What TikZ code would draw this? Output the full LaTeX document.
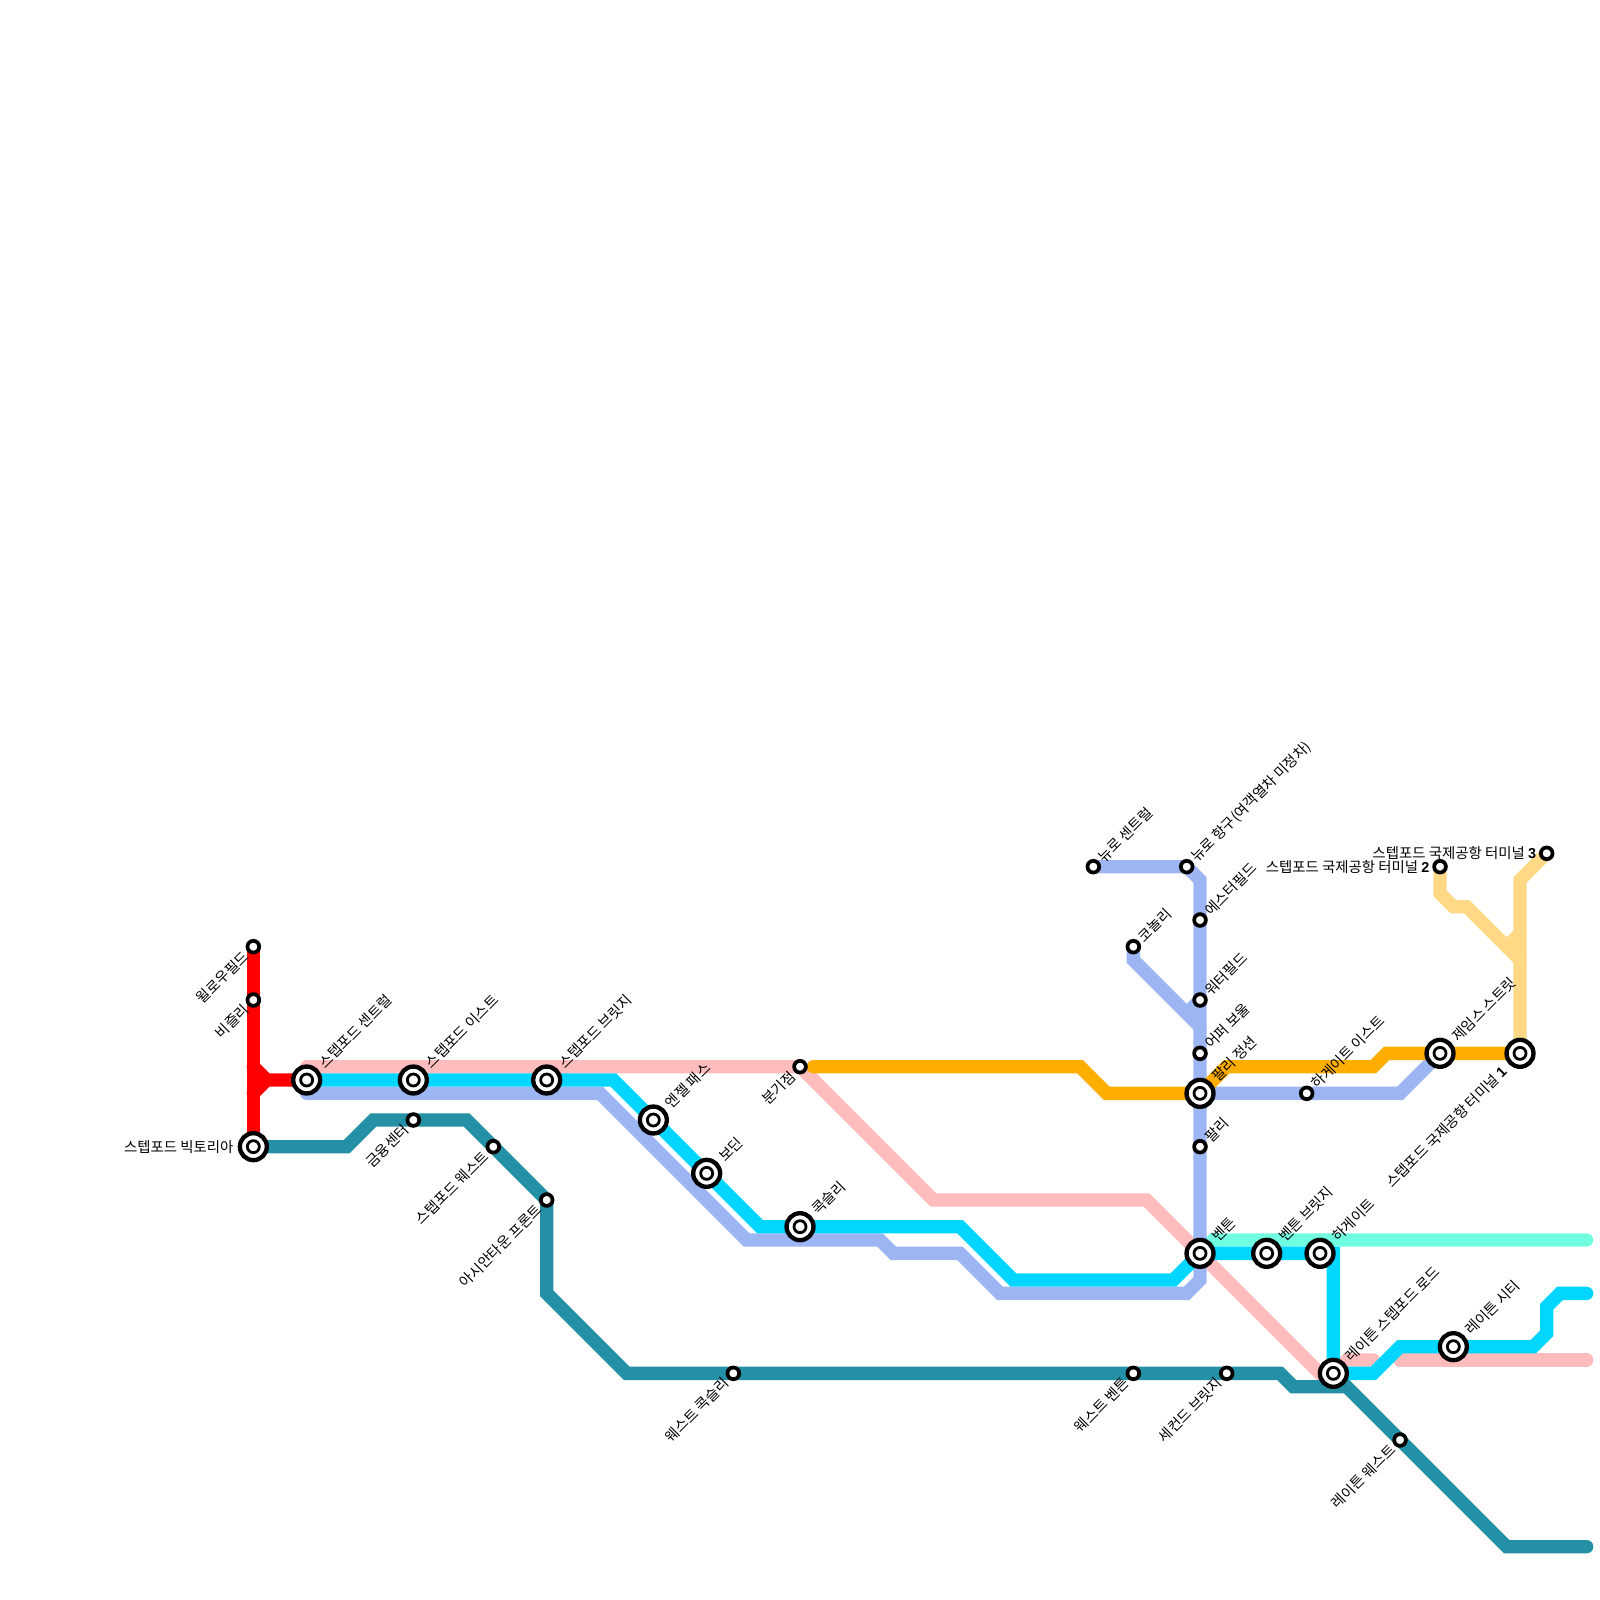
\documentclass[tikz,border=0pt]{standalone}
\usepackage{fontspec}
\setmainfont{Noto Sans CJK KR}
\newfontfamily\latbold{Liberation Sans Bold}
\usetikzlibrary{backgrounds}
\definecolor{cRed}{HTML}{FF0000}
\definecolor{cTeal}{HTML}{2390A5}
\definecolor{cPink}{HTML}{FFBCBC}
\definecolor{cCyan}{HTML}{00D6FF}
\definecolor{cBlue}{HTML}{9CB5F3}
\definecolor{cOrange}{HTML}{FFAE00}
\definecolor{cMint}{HTML}{71FFE1}
\definecolor{cYellow}{HTML}{FFD986}
\tikzset{
  x=0.2cm,y=-0.2cm,
  metro/.style={line width=0.2cm,line cap=round,line join=miter},
  sst/.style={circle,draw=black,fill=white,line width=0.056cm,minimum size=0.176cm,inner sep=0pt,outer sep=0pt},
  bst/.style={circle,draw=black,fill=white,line width=0.065cm,minimum size=0.404cm,inner sep=0pt,outer sep=0pt,
    path picture={\draw[black,line width=0.042cm] (path picture bounding box.center) circle[radius=0.09cm];}},
  txt/.style={font=\fontsize{6.15pt}{7pt}\selectfont,inner sep=0pt,outer sep=0pt,text=black},
  lur/.style={txt,rotate=45,anchor=west},
  lll/.style={txt,rotate=45,anchor=east},
  lh/.style={txt,anchor=east},
}
\begin{document}
\begin{tikzpicture}
\useasboundingbox (0,0) rectangle (120,120);
% stations
\node[sst] (willow) at (19,71) {};
\node[sst] (beasley) at (19,75) {};
\node[bst] (central) at (23,81) {};
\node[bst] (east) at (31,81) {};
\node[bst] (bridge) at (41,81) {};
\node[bst] (victoria) at (19,86) {};
\node[sst] (finance) at (31,84) {};
\node[sst] (west) at (37,86) {};
\node[sst] (asian) at (41,90) {};
\node[bst] (angel) at (49,84) {};
\node[bst] (bodin) at (53,88) {};
\node[bst] (coxley) at (60,92) {};
\node[sst] (junction) at (60,80) {};
\node[sst] (wcoxley) at (55,103) {};
\node[sst] (ncentral) at (82,65) {};
\node[sst] (nport) at (89,65) {};
\node[sst] (esther) at (90,69) {};
\node[sst] (connolly) at (85,71) {};
\node[sst] (water) at (90,75) {};
\node[sst] (upper) at (90,79) {};
\node[bst] (farleyj) at (90,82) {};
\node[sst] (heast) at (98,82) {};
\node[bst] (james) at (108,79) {};
\node[bst] (tone) at (114,79) {};
\node[sst] (ttwo) at (108,65) {};
\node[sst] (tthree) at (116,64) {};
\node[sst] (farley) at (90,86) {};
\node[bst] (benton) at (90,94) {};
\node[bst] (bbridge) at (95,94) {};
\node[bst] (hgate) at (99,94) {};
\node[bst] (lroad) at (100,103) {};
\node[bst] (lcity) at (109,101) {};
\node[sst] (wbenton) at (85,103) {};
\node[sst] (second) at (92,103) {};
\node[sst] (lwest) at (105,108) {};
% free ends
\coordinate (tealend) at (119,116);
\coordinate (mintend) at (119,93);
\coordinate (cyanend) at (119,97);
\coordinate (pinkend) at (119,102);
\coordinate (pinkstart) at (105,102);
\coordinate (pinkstub) at (103,102);
\coordinate (orangestart) at (61,80);
% lines
\begin{scope}[on background layer]
\draw[metro,cPink] (central.center)+(0,-1) -- (junction.center) -- (70,90) -- (86,90) -- (99,103) -- (lroad.center) -- (101,102) -- (pinkstub);
\draw[metro,cPink] (pinkstart) -- (pinkend);
\draw[metro,cMint] (benton.center) -- (91,93) -- (mintend);
\draw[metro,cBlue] (central.center)+(0,1) -- (45,82) -- (56,93) -- (66,93) -- (67,94) -- (72,94) -- (75,97) -- (89,97) -- (90,96) -- (benton.center) -- (farley.center) -- (farleyj.center) -- (upper.center) -- (90,77) -- (water.center) -- (esther.center) -- (90,66) -- (nport.center) -- (ncentral.center);
\draw[metro,cBlue] (connolly.center) -- (85,72) -- (89,76) -- (90,77);
\draw[metro,cBlue] (89,76) -- (water.center);
\draw[metro,cBlue] (farleyj.center) -- (heast.center) -- (105,82) -- (james.center);
\draw[metro,cCyan] (central.center) -- (east.center) -- (bridge.center) -- (46,81) -- (angel.center) -- (bodin.center) -- (57,92) -- (coxley.center) -- (72,92) -- (76,96) -- (88,96) -- (benton.center) -- (bbridge.center) -- (hgate.center) -- (100,94) -- (lroad.center) -- (103,103) -- (105,101) -- (lcity.center) -- (115,101) -- (116,100) -- (116,98) -- (117,97) -- (cyanend);
\draw[metro,cOrange] (orangestart) -- (81,80) -- (83,82) -- (farleyj.center) -- (92,80) -- (103,80) -- (104,79) -- (james.center) -- (tone.center);
\draw[metro,cYellow] (ttwo.center) -- (108,67) -- (109,68) -- (110,68) -- (113,71) -- (114,72);
\draw[metro,cYellow] (tthree.center) -- (114,66) -- (tone.center);
\draw[metro,cYellow] (114,70) -- (113,71);
\draw[metro,cTeal] (victoria.center) -- (26,86) -- (28,84) -- (finance.center) -- (35,84) -- (west.center) -- (asian.center) -- (41,97) -- (47,103) -- (wcoxley.center) -- (wbenton.center) -- (second.center) -- (96,103) -- (97,104) -- (101,104) -- (lwest.center) -- (113,116) -- (tealend);
\draw[metro,cRed] (willow.center) -- (beasley.center) -- (victoria.center);
\draw[metro,cRed] (19,80) -- (20,81) -- (central.center);
\draw[metro,cRed] (19,82) -- (20,81);
\end{scope}
% labels upper right
\path (central.center) ++(1.1,-1.1) node[lur] (t1) {스텝포드 센트럴};
\path (east.center) ++(1.1,-1.1) node[lur] (t2) {스텝포드 이스트};
\path (bridge.center) ++(1.1,-1.1) node[lur] (t3) {스텝포드 브릿지};
\path (angel.center) ++(1.1,-1.1) node[lur] (t4) {엔젤 패스};
\path (bodin.center) ++(1.1,-1.1) node[lur] (t5) {보딘};
\path (coxley.center) ++(1.1,-1.1) node[lur] (t6) {콕슬리};
\path (ncentral.center) ++(.55,-.55) node[lur] (t7) {뉴로 센트럴};
\path (nport.center) ++(.55,-.55) node[lur] (t8) {뉴로 항구(여객열차 미정차)};
\path (esther.center) ++(.55,-.55) node[lur] (t9) {에스터필드};
\path (connolly.center) ++(.55,-.55) node[lur] (t10) {코놀리};
\path (water.center) ++(.55,-.55) node[lur] (t11) {워터필드};
\path (upper.center) ++(.55,-.55) node[lur] (t12) {어퍼 보울};
\path (farleyj.center) ++(1.1,-1.1) node[lur] (t13) {팔리 정션};
\path (farley.center) ++(.55,-.55) node[lur] (t14) {팔리};
\path (heast.center) ++(.55,-.55) node[lur] (t15) {하게이트 이스트};
\path (james.center) ++(1.1,-1.1) node[lur] (t16) {제임스 스트릿};
\path (benton.center) ++(1.1,-1.1) node[lur] (t17) {벤튼};
\path (bbridge.center) ++(1.1,-1.1) node[lur] (t18) {벤튼 브릿지};
\path (hgate.center) ++(1.1,-1.1) node[lur] (t19) {하게이트};
\path (lroad.center) ++(1.1,-1.1) node[lur] (t20) {레이튼 스텝포드 로드};
\path (lcity.center) ++(1.1,-1.1) node[lur] (t21) {레이튼 시티};
% labels lower left
\path (willow.center) ++(-.55,.55) node[lll] (t22) {윌로우필드};
\path (beasley.center) ++(-.55,.55) node[lll] (t23) {비즐리};
\path (finance.center) ++(-.55,.55) node[lll] (t24) {금융센터};
\path (west.center) ++(-.55,.55) node[lll] (t25) {스텝포드 웨스트};
\path (asian.center) ++(-.55,.55) node[lll] (t26) {아시안타운 프론트};
\path (junction.center) ++(-.55,.55) node[lll] (t27) {분기점};
\path (wcoxley.center) ++(-.55,.55) node[lll] (t28) {웨스트 콕슬리};
\path (wbenton.center) ++(-.55,.55) node[lll] (t29) {웨스트 벤튼};
\path (second.center) ++(-.55,.55) node[lll] (t30) {세컨드 브릿지};
\path (lwest.center) ++(-.55,.55) node[lll] (t31) {레이튼 웨스트};
\path (tone.center) ++(-1.2,1.2) node[lll] (t32) {스텝포드 국제공항 터미널 {\latbold 1}};
% labels horizontal
\path (victoria.center) ++(-1.5,0) node[lh] (t33) {스텝포드 빅토리아};
\path (ttwo.center) ++(-.8,0) node[lh] (t34) {스텝포드 국제공항 터미널 {\latbold 2}};
\path (tthree.center) ++(-.8,0) node[lh] (t35) {스텝포드 국제공항 터미널 {\latbold 3}};
\end{tikzpicture}
\end{document}
